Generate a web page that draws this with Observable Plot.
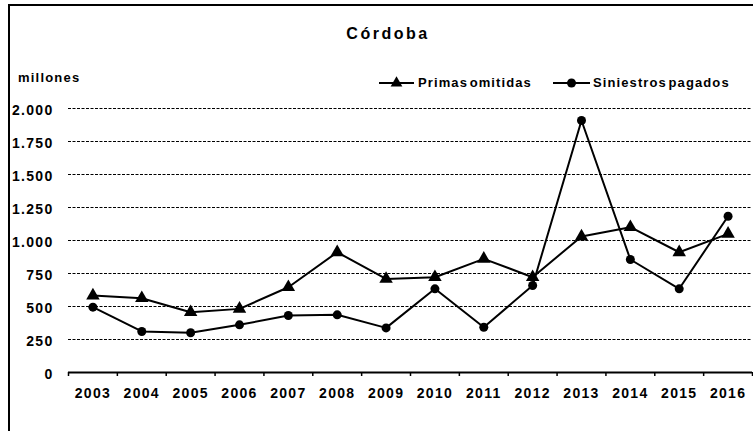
<!DOCTYPE html>
<html>
<head>
<meta charset="utf-8">
<script src="https://cdn.jsdelivr.net/npm/d3@7"></script>
<script src="https://cdn.jsdelivr.net/npm/@observablehq/plot@0.6"></script>
<style>
  body { margin: 0; background: #fff; }
  #wrap { position: relative; width: 753px; height: 431px; overflow: hidden;
          font-family: "Liberation Sans", Arial, sans-serif; font-weight: bold; color: #000; }
  #frame { position: absolute; left: 8px; top: 4px; width: 745px; height: 427px;
           border-left: 2px solid #000; border-top: 2px solid #000; box-sizing: border-box; }
  #title { position: absolute; left: 288px; width: 200px; top: 26px; text-align: center;
           font-size: 16px; line-height: 16px; letter-spacing: 2.5px; }
  #unit { position: absolute; left: 18px; top: 71px; font-size: 13px; line-height: 13px; letter-spacing: 1.2px; }
  .leg { position: absolute; top: 76px; font-size: 13px; line-height: 13px; letter-spacing: 1.1px; word-spacing: -3px; }
  #legsvg { position: absolute; left: 0; top: 0; }
  #chart { position: absolute; left: 0; top: 0; }
</style>
</head>
<body>
<div id="wrap">
  <div id="chart"></div>
  <div id="frame"></div>
  <div id="title">Córdoba</div>
  <div id="unit">millones</div>
  <svg id="legsvg" width="753" height="100"></svg>
  <div class="leg" style="left:418px">Primas omitidas</div>
  <div class="leg" style="left:593px">Siniestros pagados</div>
</div>
<script>
const years = [2003, 2004, 2005, 2006, 2007, 2008, 2009, 2010, 2011, 2012, 2013, 2014, 2015, 2016];
const primas = [583, 563, 457, 482, 646, 911, 709, 722, 861, 722, 1030, 1101, 911, 1050];
const siniestros = [495, 311, 301, 361, 432, 437, 338, 634, 343, 659, 1909, 856, 634, 1184];
const yTicks = [0, 250, 500, 750, 1000, 1250, 1500, 1750, 2000];
const seriesNames = ["Primas omitidas", "Siniestros pagados"];

const rows = [
  ...years.map((yr, i) => ({year: yr, value: primas[i], series: seriesNames[0]})),
  ...years.map((yr, i) => ({year: yr, value: siniestros[i], series: seriesNames[1]}))
];
const xBounds = years.map(y => y - 0.5).concat([years[years.length - 1] + 0.5]);
const fmt = d => d3.format(",")(d).replace(/,/g, ".");

const chart = Plot.plot({
  width: 753,
  height: 431,
  marginLeft: 68,
  marginRight: 1,
  marginTop: 108,
  marginBottom: 59,
  x: {type: "linear", domain: [xBounds[0], xBounds[xBounds.length - 1]], label: null},
  y: {domain: [0, 2000], label: null},
  style: {fontFamily: '"Liberation Sans", Arial, sans-serif', fontWeight: "bold", fontSize: "14px",
          letterSpacing: "1.3px", background: "transparent", color: "#000", overflow: "visible"},
  marks: [
    Plot.ruleY(yTicks.filter(d => d > 0), {stroke: "#000", strokeWidth: 1, strokeDasharray: "3,1.5"}),
    Plot.ruleY([0], {stroke: "#000", strokeWidth: 2}),
    Plot.axisY({ticks: yTicks, tickSize: 0, tickPadding: 15, tickFormat: fmt, fontSize: 14, dy: 2, fill: "#000", label: null}),
    Plot.axisX({ticks: xBounds, tickSize: 4, tickFormat: () => "", stroke: "#000", strokeWidth: 1.5, label: null}),
    Plot.axisX({ticks: years, tickSize: 0, tickPadding: 16, tickFormat: d => String(d), fontSize: 14, fill: "#000", label: null}),
    Plot.line(rows, {x: "year", y: "value", z: "series", stroke: "#000", strokeWidth: 2}),
    Plot.dot(rows.filter(d => d.series === seriesNames[0]), {x: "year", y: "value", symbol: "triangle", r: 5, fill: "#000"}),
    Plot.dot(rows.filter(d => d.series === seriesNames[1]), {x: "year", y: "value", symbol: "circle", r: 4.5, fill: "#000"})
  ]
});
document.getElementById("chart").appendChild(chart);

// legend symbols
const leg = d3.select("#legsvg");
const items = [{x1: 379, x2: 414, sym: d3.symbolTriangle, size: 60}, {x1: 553, x2: 590, sym: d3.symbolCircle, size: 64}];
items.forEach(it => {
  leg.append("line").attr("x1", it.x1).attr("x2", it.x2).attr("y1", 83).attr("y2", 83)
    .attr("stroke", "#000").attr("stroke-width", 2);
  leg.append("path").attr("d", d3.symbol(it.sym, it.size)())
    .attr("transform", `translate(${(it.x1 + it.x2) / 2},83)`).attr("fill", "#000");
});
</script>
</body>
</html>
